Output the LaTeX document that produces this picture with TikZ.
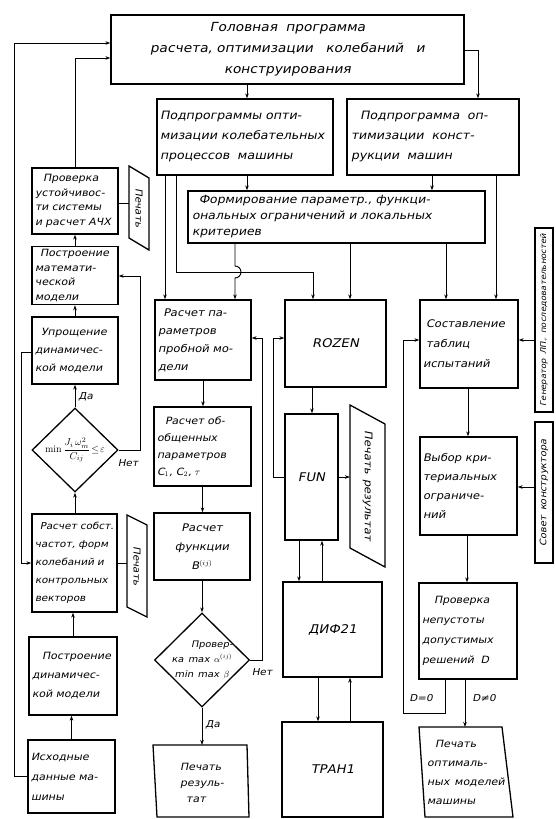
\documentclass[tikz,border=0pt]{standalone}
\usepackage{fontspec}
\newfontfamily\hw{DejaVu Sans}[FakeSlant=0.2,FakeStretch=1.1,WordSpace=1.4]
\usetikzlibrary{arrows.meta,shapes.geometric,calc}
\begin{document}
\begin{tikzpicture}[x=1pt,y=-1pt,
  bx/.style={draw, line width=1.3pt, inner sep=3pt, align=left},
  fL/.style={font=\hw\fontsize{10}{14.5}\selectfont},
  fM/.style={font=\hw\fontsize{10.5}{18}\selectfont},
  fR/.style={font=\hw\fontsize{10.5}{20}\selectfont},
  fB/.style={font=\hw\fontsize{11.5}{20}\selectfont},
  fP/.style={font=\hw\fontsize{12}{14}\selectfont},
  ln/.style={line width=0.9pt},
  ar/.style={ln, -{Stealth[length=5pt,width=3.5pt]}},
  lbl/.style={font=\hw\fontsize{9.5}{11}\selectfont, inner sep=1pt},
  shp/.style={line width=1.3pt}]
\useasboundingbox (0,0) rectangle (555,819);
\fill[white] (0,0) rectangle (555,819);

% top
\node[bx, font=\hw\fontsize{12.5}{21}\selectfont, align=center, minimum width=353pt, minimum height=69pt, text width=345pt] (head) at (287.5,49.5)
  {Головная\ \ программа\\расчета, оптимизации\ \ \ колебаний\ \ \ и\\конструирования};
\node[bx, fB, minimum width=176pt, minimum height=76pt, text width=170pt] (sub1) at (245,137)
  {Подпрограммы\ опти-\\мизации колебательных\\процессов\ \ машины};
\node[bx, fB, minimum width=172pt, minimum height=76pt, text width=164pt] (sub2) at (433,137)
  {\hspace*{0.8em}Подпрограмма\ \ оп-\\тимизации\ \ конст-\\рукции\ \ машин};
\node[bx, font=\hw\fontsize{11.3}{16}\selectfont, minimum width=297pt, minimum height=52pt, text width=289pt] (form) at (336.5,217)
  {\hspace*{0.6em}Формирование параметр., функци-\\ональных\ ограничений\ и локальных\\критериев};

% left column
\node[bx, fL, minimum width=86pt, minimum height=66pt, text width=80pt] (prov) at (75,201)
  {\hspace*{0.8em}Проверка\\устойчивос-\\ти системы\\и расчет АЧХ};
\node[bx, fL, minimum width=86pt, minimum height=49pt, text width=80pt] (pmat) at (75,275.5)
  {\hspace*{0.5em}Построение\\математи-\\ческой модели};
\node[bx, fL, font=\hw\fontsize{10}{18}\selectfont, minimum width=86pt, minimum height=67pt, text width=80pt] (upr) at (75,350.5)
  {\hspace*{0.6em}Упрощение\\динамичес-\\кой модели};
\node[diamond, draw, line width=1.3pt, minimum width=86pt, minimum height=84pt, inner sep=0pt] (d1) at (75,450) {};
\node[inner sep=0pt, font=\fontsize{10}{11}\selectfont] (d1t) at (d1.center) {$\displaystyle\min\frac{J_i\,\omega^{2}_{m}}{C_{ij}}\!\le\!\varepsilon$};
\node[bx, fL, font=\hw\fontsize{9.5}{18}\selectfont, minimum width=85pt, minimum height=98pt, text width=79pt] (rs) at (74.5,563)
  {\hspace*{0.5em}Расчет собст.\\частот, форм\\колебаний и\\контрольных\\векторов};
\node[bx, fL, font=\hw\fontsize{10}{19}\selectfont, minimum width=88pt, minimum height=78pt, text width=82pt] (pdin) at (73,676)
  {\hspace*{1em}Построение\\динамичес-\\кой модели};
\node[bx, fL, font=\hw\fontsize{10}{20}\selectfont, minimum width=87pt, minimum height=73pt, text width=81pt] (ish) at (71.5,776.5)
  {Исходные\\данные ма-\\шины};

% print shapes left
\coordinate (p1a) at (129,166); \coordinate (p1b) at (149,178);
\coordinate (p1c) at (149,250); \coordinate (p1d) at (129,238);
\draw[shp] (p1a) -- (p1b) -- (p1c) -- (p1d) -- cycle;
\node[lbl, rotate=-90, font=\hw\fontsize{9.5}{11}\selectfont] (p1) at (139,208) {Печать};
\coordinate (p2a) at (127,515); \coordinate (p2b) at (147,525);
\coordinate (p2c) at (147,617); \coordinate (p2d) at (127,607);
\draw[shp] (p2a) -- (p2b) -- (p2c) -- (p2d) -- cycle;
\node[lbl, rotate=-90, font=\hw\fontsize{9.5}{11}\selectfont] (p2) at (137,566) {Печать};

% middle column
\node[bx, fM, minimum width=96pt, minimum height=80pt, text width=90pt] (rpar) at (203,340)
  {\hspace*{0.5em}Расчет па-\\раметров\\пробной мо-\\дели};
\node[bx, fM, font=\hw\fontsize{10}{17}\selectfont, minimum width=97pt, minimum height=79pt, text width=91pt] (robob) at (202.5,446.5)
  {\hspace*{0.8em}Расчет об-\\общенных\\параметров\\C$_1$, C$_2$, $\tau$};
\node[bx, fM, align=center, font=\hw\fontsize{10.5}{19}\selectfont, minimum width=96pt, minimum height=67pt, text width=90pt] (rfun) at (202,546.5)
  {Расчет\\функции\\B$^{(ij)}$};
\node[diamond, draw, line width=1.3pt, minimum width=95pt, minimum height=94pt, inner sep=0pt] (d2) at (202,660) {};
\node[inner sep=0pt, align=center, font=\hw\fontsize{9}{15}\selectfont] (d2t) at (d2.center)
  {\hspace*{2.2em}Провер-\\ка max $\alpha^{(ij)}$\\min max $\beta$};
\coordinate (pra) at (153,745); \coordinate (prb) at (247,745);
\coordinate (prc) at (249,817); \coordinate (prd) at (157,817);
\draw[shp] (pra) -- (prb) -- (prc) -- (prd) -- cycle;
\node[fM, align=left, font=\hw\fontsize{10}{16}\selectfont] (pres) at (202,783) {Печать\\резуль-\\\hspace*{0.6em}тат};

% center column
\node[bx, fP, align=center, minimum width=101pt, minimum height=87pt] (rozen) at (335.5,343.5) {ROZEN};
\node[bx, fP, align=center, minimum width=53pt, minimum height=126pt] (fun) at (311.5,477) {FUN};
\coordinate (qa) at (350,405); \coordinate (qb) at (385,424);
\coordinate (qc) at (385,567); \coordinate (qd) at (350,548);
\draw[shp] (qa) -- (qb) -- (qc) -- (qd) -- cycle;
\node[lbl, rotate=-90, font=\hw\fontsize{10.5}{11}\selectfont] (pres2) at (367.5,486) {Печать результат};
\node[bx, fP, align=center, minimum width=99pt, minimum height=95pt] (dif) at (332.5,629.5) {ДИФ21};
\node[bx, fP, align=center, minimum width=101pt, minimum height=95pt] (tran) at (332.5,769.5) {ТРАН1};

% right column
\node[bx, fR, minimum width=98pt, minimum height=88pt, text width=92pt] (sost) at (469,344)
  {\hspace*{0.3em}Составление\\\hspace*{0.3em}таблиц\\испытаний};
\node[bx, fR, font=\hw\fontsize{10.5}{19}\selectfont, minimum width=97pt, minimum height=98pt, text width=91pt] (vyb) at (468.5,486)
  {Выбор кри-\\териальных\\ограниче-\\ний};
\node[bx, fR, font=\hw\fontsize{10}{20}\selectfont, minimum width=98pt, minimum height=96pt, text width=92pt] (provD) at (468,631)
  {\hspace*{1.2em}Проверка\\непустоты\\допустимых\\решений\ \ D};
\coordinate (oa) at (419,727); \coordinate (ob) at (502,727);
\coordinate (oc) at (513,817); \coordinate (od) at (425,817);
\draw[shp] (oa) -- (ob) -- (oc) -- (od) -- cycle;
\node[align=left, font=\hw\fontsize{10}{19}\selectfont] (popt) at (466,772) {\hspace*{0.8em}Печать\\оптималь-\\ных моделей\\машины};
\node[draw, line width=1.3pt, minimum width=18pt, minimum height=184pt, inner sep=0pt] (gen) at (544,320) {};
\node[rotate=90, inner sep=0pt, font=\hw\fontsize{7.8}{9}\selectfont] (gent) at (gen.center) {Генератор ЛП$_\tau$ последовательностей};
\node[draw, line width=1.3pt, minimum width=18pt, minimum height=141pt, inner sep=0pt] (sov) at (544,492.5) {};
\node[rotate=90, inner sep=0pt, font=\hw\fontsize{9}{9}\selectfont] (sovt) at (sov.center) {Совет конструктора};

% connectors top
\draw[ar] (head.south -| 247,0) -- (sub1.north -| 247,0);
\draw[ar] (head.east |- 0,50) -- (478,50) -- (sub2.north -| 478,0);
\draw[ar] (prov.north) -- (prov.north |- 0,58) -- (head.west |- 0,58);
\draw[ar] (ish.west) -- (ish.west -| 14,0) -- (14,43) -- (head.west |- 0,43);
\draw[ar] (sub1.south -| 247,0) -- (form.north -| 247,0);
\draw[ar] (sub2.south -| 432,0) -- (form.north -| 432,0);
\draw[ar] (sub1.south -| 165,0) -- (rpar.north -| 165,0);
\draw[ar] (sub1.south -| 176,0) -- (176,272) -- (313,272) -- (rozen.north -| 313,0);
\draw[ar] (form.south -| 235,0) -- (235,266) arc[start angle=90,end angle=-90,radius=6pt] -- (rpar.north -| 235,0);
\draw[ar] (form.south -| 350,0) -- (rozen.north -| 350,0);
\draw[ar] (form.south -| 446,0) -- (sost.north -| 446,0);
\draw[ar] (sub2.south -| 496,0) -- (sost.north -| 496,0);

% left column connectors
\draw[ar] (pmat.north) -- (prov.south);
\draw[ar] (upr.north) -- (pmat.south);
\draw[ar] (d1.north) -- (upr.south) node[lbl, pos=0.45, right=2pt] (da1) {Да};
\draw[ar] (d1.east) -- (140,450) -- (140,276) -- (pmat.east |- 0,276);
\node[lbl] (net1) at (128,463) {Нет};
\draw[ar] (upr.west |- 0,352) -- (21,352) -- (21,563) -- (rs.west);
\draw[ar] (rs.north -| d1.south) -- (d1.south);
\draw[ln] (rs.east) -- (p2a |- rs.east);
\draw[ar] (pdin.north) -- (pdin.north |- rs.south);
\draw[ar] (ish.north) -- (ish.north |- pdin.south);
\draw[ln] (prov.east |- 0,203) -- (p1a |- 0,203);

% middle connectors
\draw[ar] (rpar.south) -- (rpar.south |- robob.north);
\draw[ar] (robob.south) -- (robob.south |- rfun.north);
\draw[ar] (rfun.south) -- (d2.north);
\draw[ar] (d2.south) -- (d2.south |- pra) node[lbl, pos=0.45, right=2pt] (da2) {Да};
\draw[ar] (d2.east) -- (262,660) -- (262,338) -- (rpar.east |- 0,338);
\node[lbl] (net2) at (262,672) {Нет};

% center connectors
\draw[ar] (rozen.south -| 312,0) -- (fun.north -| 312,0);
\draw[ar] (fun.west) -- (273,477) -- (273,338) -- (rozen.west |- 0,338);
\draw[ar] (fun.east) -- (qa |- fun.east);
\draw[ar] (fun.south -| 299,0) -- (dif.north -| 299,0);
\draw[ar] (dif.north -| 322,0) -- (fun.south -| 322,0);
\draw[ar] (dif.south -| 318,0) -- (tran.north -| 318,0);
\draw[ar] (tran.north -| 350,0) -- (dif.south -| 350,0);

% right connectors
\draw[ar] (gen.west |- 0,340) -- (sost.east |- 0,340);
\draw[ar] (sov.west |- 0,487) -- (vyb.east |- 0,487);
\draw[ar] (sost.south -| 468,0) -- (vyb.north -| 468,0);
\draw[ar] (vyb.south -| 467,0) -- (provD.north -| 467,0);
\draw[ar] (provD.south -| 445,0) -- (445,713) -- (403,713) -- (403,340) -- (sost.west |- 0,340);
\node[lbl] (d0) at (421,698) {D=0};
\draw[ar] (provD.south -| 465,0) -- (oa -| 465,0);
\node[lbl] (dn0) at (484,698) {D≠0};
\end{tikzpicture}
\end{document}
